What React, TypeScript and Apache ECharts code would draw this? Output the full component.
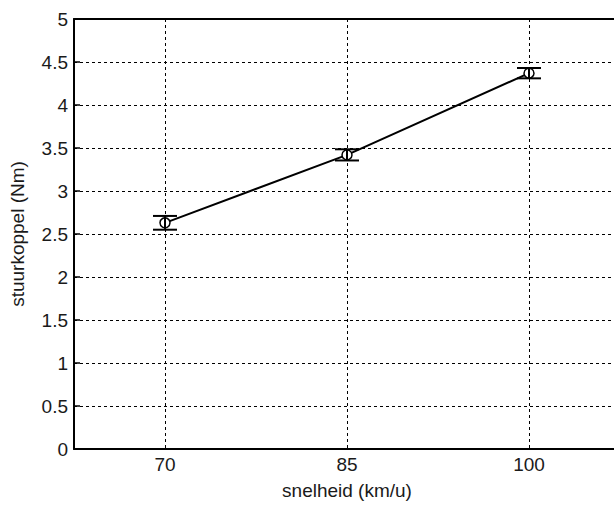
import React, { useEffect, useRef } from "react";
import * as echarts from "echarts";

const speeds = ["70", "85", "100"];
const torqueMean = [2.63, 3.42, 4.37];
const torqueErr = [0.08, 0.065, 0.06];
const yTicksMin = 0;
const yTicksMax = 5;
const yTickStep = 0.5;

const FONT = "'Liberation Sans', Arial, sans-serif";
const TEXT = "#1a1a1a";

export default function App() {
  const ref = useRef<HTMLDivElement>(null);
  useEffect(() => {
    if (!ref.current) return;
    const chart = echarts.init(ref.current, null, { renderer: "svg" });
    const errData = speeds.map((_, i) => [i, torqueMean[i] - torqueErr[i], torqueMean[i] + torqueErr[i]]);
    const gridLine = { show: true, alignWithLabel: true, lineStyle: { color: "#000", width: 1, type: [3, 3] } };
    chart.setOption({
      animation: false,
      backgroundColor: "#fff",
      textStyle: { fontFamily: FONT },
      grid: { left: 73, top: 19, width: 547, height: 432, containLabel: false },
      xAxis: [
        {
          type: "category",
          data: speeds,
          boundaryGap: true,
          position: "bottom",
          name: "snelheid (km/u)",
          nameLocation: "middle",
          nameGap: 32,
          nameTextStyle: { fontFamily: FONT, fontSize: 19, color: TEXT },
          axisLine: { lineStyle: { color: "#000", width: 2 } },
          axisTick: { inside: true, alignWithLabel: true, length: 6, lineStyle: { color: "#000", width: 1.5 } },
          axisLabel: { fontFamily: FONT, fontSize: 19, color: TEXT, margin: 6 },
          splitLine: gridLine,
        },
        {
          type: "category",
          data: speeds,
          boundaryGap: true,
          position: "top",
          axisLine: { lineStyle: { color: "#000", width: 2 } },
          axisTick: { inside: true, alignWithLabel: true, length: 6, lineStyle: { color: "#000", width: 1.5 } },
          axisLabel: { show: false },
          splitLine: { show: false },
        },
      ],
      yAxis: {
        type: "value",
        min: yTicksMin,
        max: yTicksMax,
        interval: yTickStep,
        name: "stuurkoppel (Nm)",
        nameLocation: "middle",
        nameGap: 47,
        nameTextStyle: { fontFamily: FONT, fontSize: 19, color: TEXT },
        axisLine: { show: true, lineStyle: { color: "#000", width: 2 } },
        axisTick: { show: true, inside: true, length: 6, lineStyle: { color: "#000", width: 1.5 } },
        axisLabel: { fontFamily: FONT, fontSize: 19, color: TEXT, margin: 6 },
        splitLine: { show: true, lineStyle: { color: "#000", width: 1, type: [3, 3] } },
      },
      series: [
        {
          type: "line",
          xAxisIndex: 0,
          data: torqueMean,
          symbol: "circle",
          symbolSize: 10,
          lineStyle: { color: "#000", width: 2 },
          itemStyle: { color: "#fff", borderColor: "#000", borderWidth: 1.5 },
          z: 3,
        },
        {
          type: "custom",
          xAxisIndex: 0,
          data: errData,
          z: 4,
          renderItem: (params: any, api: any) => {
            const x = api.value(0);
            const lo = api.coord([x, api.value(1)]);
            const hi = api.coord([x, api.value(2)]);
            const hw = 12;
            const st = { stroke: "#000", lineWidth: 2 };
            return {
              type: "group",
              children: [
                { type: "line", shape: { x1: lo[0], y1: lo[1], x2: hi[0], y2: hi[1] }, style: st },
                { type: "line", shape: { x1: lo[0] - hw, y1: lo[1], x2: lo[0] + hw, y2: lo[1] }, style: st },
                { type: "line", shape: { x1: hi[0] - hw, y1: hi[1], x2: hi[0] + hw, y2: hi[1] }, style: st },
              ],
            };
          },
        },
      ],
    });
    return () => chart.dispose();
  }, []);
  return (
    <div style={{ position: "fixed", left: 0, top: 0, width: 614, height: 505, overflow: "hidden", background: "#fff" }}>
      <div ref={ref} style={{ width: 700, height: 505 }} />
    </div>
  );
}
